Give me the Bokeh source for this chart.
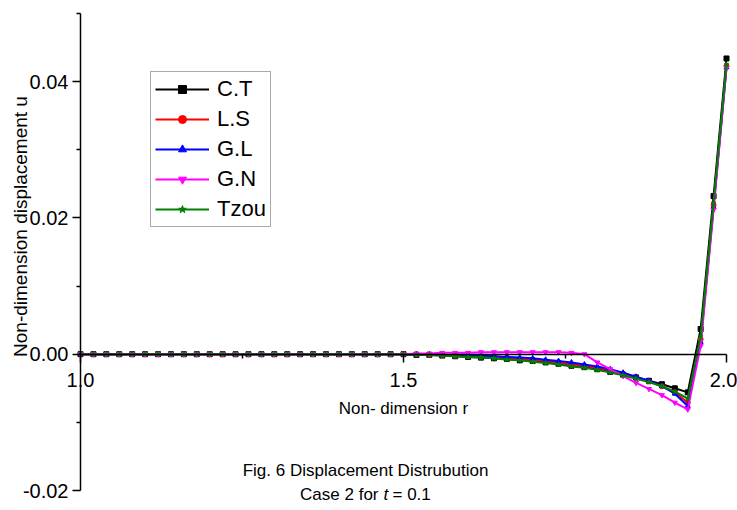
import numpy as np
from bokeh.plotting import figure
from bokeh.models import (Range1d, LinearAxis, FixedTicker, Label, Legend, LegendItem)
from bokeh.embed import file_html
from bokeh.resources import INLINE

# ---------------- data ----------------
r = [round(1.0 + 0.02 * i, 2) for i in range(51)]
zeros26 = [0.0] * 26  # r = 1.00 ... 1.50

ct = zeros26 + [-0.0001, -0.0001, -0.0002, -0.0003, -0.0004, -0.0005, -0.0006, -0.0007,
                -0.0009, -0.0010, -0.0012, -0.0014, -0.0017, -0.0019, -0.0022, -0.0026,
                -0.0030, -0.0034, -0.0039, -0.0044, -0.0050, -0.0056, 0.0037, 0.0232, 0.0434]
ls = zeros26 + [0.0, -0.0001, -0.0001, -0.0002, -0.0003, -0.0003, -0.0004, -0.0005,
                -0.0007, -0.0008, -0.0010, -0.0012, -0.0015, -0.0017, -0.0020, -0.0024,
                -0.0029, -0.0034, -0.0040, -0.0047, -0.0056, -0.0071, 0.0022, 0.0219, 0.0423]
gl = zeros26 + [0.0, 0.0, -0.0001, -0.0001, -0.0002, -0.0002, -0.0003, -0.0004,
                -0.0005, -0.0006, -0.0008, -0.0010, -0.0012, -0.0015, -0.0018, -0.0022,
                -0.0027, -0.0033, -0.0039, -0.0047, -0.0058, -0.0076, 0.0018, 0.0216, 0.0421]
gn = zeros26 + [0.0001, 0.0001, 0.0002, 0.0002, 0.0002, 0.0003, 0.0003, 0.0003,
                0.0003, 0.0003, 0.0003, 0.0003, 0.0002, 0.0000, -0.0012, -0.0022,
                -0.0032, -0.0042, -0.0051, -0.0060, -0.0071, -0.0081, 0.0012, 0.0212, 0.0420]
tz = zeros26 + [-0.0001, -0.0001, -0.0002, -0.0003, -0.0004, -0.0005, -0.0006, -0.0008,
                -0.0009, -0.0011, -0.0013, -0.0015, -0.0018, -0.0020, -0.0023, -0.0027,
                -0.0031, -0.0036, -0.0041, -0.0047, -0.0055, -0.0065, 0.0026, 0.0222, 0.0425]

series_names = ["C.T", "L.S", "G.L", "G.N", "Tzou"]
series_values = [ct, ls, gl, gn, tz]
series_colors = ["#000000", "#ff0000", "#0000ff", "#ff00ff", "#008000"]
series_markers = ["square", "circle", "triangle", "inverted_triangle", "star"]

x_major = [1.0, 1.5, 2.0]
x_minor = [1.25, 1.75]
y_major = [-0.02, 0.0, 0.02, 0.04]
y_minor = [-0.01, 0.01, 0.03, 0.05]

# ---------------- layout (pixel placement of the axes inside the canvas) ----------------
W, H = 737, 510
AX_L, AX_R, AX_T, AX_B = 80, 726, 13, 490   # pixel positions of x=1.0, x=2.0, y=0.05, y=-0.02
X0, X1 = 1.0, 2.0
Y0, Y1 = -0.02, 0.05
sx = (AX_R - AX_L) / (X1 - X0)
sy = (AX_B - AX_T) / (Y1 - Y0)

def px_to_x(px):
    return X0 + (px - AX_L) / sx

def py_to_y(py):
    return Y0 + (AX_B - py) / sy

p = figure(width=W, height=H, output_backend="svg", toolbar_location=None,
           x_range=Range1d(px_to_x(0), px_to_x(W)), y_range=Range1d(py_to_y(H), py_to_y(0)),
           x_axis_location=None, y_axis_location=None,
           min_border_left=0, min_border_right=0, min_border_top=0, min_border_bottom=0)
p.grid.visible = False
p.outline_line_color = None
p.background_fill_color = "white"
p.border_fill_color = "white"

FONT = "Liberation Sans"

def style_axis(ax):
    ax.axis_line_color = "black"
    ax.axis_line_width = 1.5
    ax.major_tick_out = 8
    ax.major_tick_in = 0
    ax.minor_tick_out = 4
    ax.minor_tick_in = 0
    ax.major_tick_line_width = 1.5
    ax.minor_tick_line_width = 1.5
    ax.major_tick_line_color = "black"
    ax.minor_tick_line_color = "black"
    ax.major_label_text_font = FONT
    ax.major_label_text_font_size = "20px"
    ax.major_label_text_color = "black"
    ax.major_label_standoff = 4

# y axis
yax = LinearAxis(ticker=FixedTicker(ticks=y_major, minor_ticks=y_minor),
                 fixed_location=X0, bounds=(Y0, Y1))
style_axis(yax)
yax.major_label_overrides = {-0.02: "-0.02", 0.0: "0.00", 0.02: "0.02", 0.04: "0.04"}
p.add_layout(yax, "left")

# x axis crossing at y = 0
xax = LinearAxis(ticker=FixedTicker(ticks=x_major, minor_ticks=x_minor),
                 fixed_location=0.0, bounds=(X0, X1))
style_axis(xax)
xax.major_label_standoff = 11
xax.major_label_overrides = {1.0: "1.0", 1.5: "1.5", 2.0: "2.0"}
xax.axis_label = "Non- dimension r"
xax.axis_label_text_font = FONT
xax.axis_label_text_font_size = "17px"
xax.axis_label_text_font_style = "normal"
xax.axis_label_text_color = "black"
xax.axis_label_standoff = 8
p.add_layout(xax, "below")

# data
items = []
for name, vals, col, mk in zip(series_names, series_values, series_colors, series_markers):
    ln = p.line(r, vals, line_color=col, line_width=2)
    sc = p.scatter(r, vals, marker=mk, size=5, fill_color=col, line_color=col)
    items.append(LegendItem(label=name, renderers=[ln, sc]))

legend = Legend(items=items, location=(150, H - 227), orientation="vertical")
legend.label_text_font = FONT
legend.label_text_font_size = "22px"
legend.label_text_color = "black"
legend.glyph_width = 54
legend.glyph_height = 20
legend.label_height = 20
legend.label_standoff = 8
legend.spacing = 4
legend.padding = 4
legend.margin = 0
legend.border_line_color = "#555555"
legend.border_line_width = 1
legend.background_fill_color = "white"
legend.background_fill_alpha = 1.0
p.add_layout(legend, "center")

# y axis title
p.add_layout(Label(x=px_to_x(20), y=py_to_y(226), text="Non-dimension displacement u",
                   angle=np.pi / 2, text_align="center", text_baseline="middle",
                   text_font=FONT, text_font_size="19px", text_color="black"))

# captions
p.add_layout(Label(x=px_to_x(365), y=py_to_y(470), text="Fig. 6 Displacement Distrubution",
                   text_align="center", text_baseline="middle",
                   text_font=FONT, text_font_size="17px", text_color="black"))
p.add_layout(Label(x=px_to_x(378), y=py_to_y(494), text="Case 2 for",
                   text_align="right", text_baseline="middle",
                   text_font=FONT, text_font_size="17px", text_color="black"))
p.add_layout(Label(x=px_to_x(383), y=py_to_y(494), text="t",
                   text_align="left", text_baseline="middle", text_font_style="italic",
                   text_font=FONT, text_font_size="17px", text_color="black"))
p.add_layout(Label(x=px_to_x(392), y=py_to_y(494), text="= 0.1",
                   text_align="left", text_baseline="middle",
                   text_font=FONT, text_font_size="17px", text_color="black"))

open("out.html", "w").write(file_html(p, INLINE))
